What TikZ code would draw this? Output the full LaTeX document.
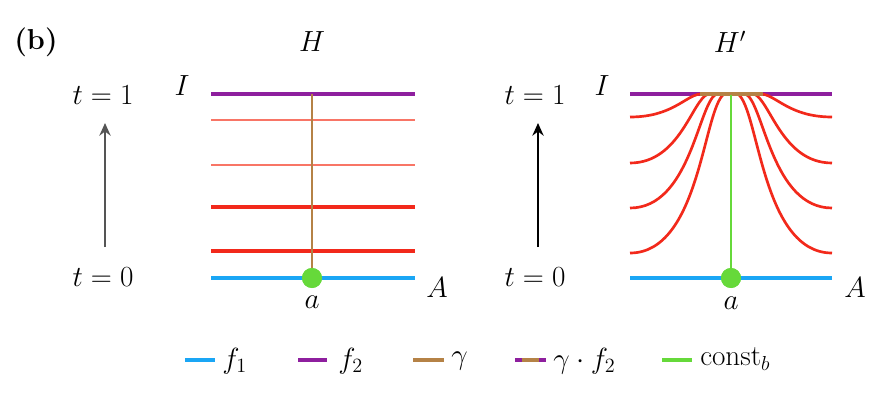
\documentclass[tikz,border=0pt]{standalone}
\usetikzlibrary{arrows.meta}
\begin{document}
\begin{tikzpicture}[x=0.025cm,y=-0.025cm,
  every node/.style={font=\fontsize{20.5}{24}\selectfont, inner sep=0pt},
  fone/.style={draw=cblue, line width=2.4pt},
  ftwo/.style={draw=cpurple, line width=2.6pt},
  redthick/.style={draw=cred, line width=2.4pt},
  redthin/.style={draw=clight, line width=1.8pt},
  redcurve/.style={draw=cred, line width=1.9pt},
  gam/.style={draw=cbrown, line width=1.3pt},
  gamthick/.style={draw=cbrown, line width=3pt},
  cst/.style={draw=cgreen, line width=1.3pt},
  dot/.style={circle, fill=cgreen, minimum size=20*0.025cm, inner sep=0pt},
  legline/.style={line width=2.6pt},
  tarrow/.style={-{Stealth[length=9pt,width=8pt]}, line width=1.8pt}]
\definecolor{cblue}{HTML}{1AA6F5}
\definecolor{cpurple}{HTML}{8E1F9E}
\definecolor{cred}{HTML}{F2291B}
\definecolor{clight}{HTML}{F87566}
\definecolor{cbrown}{HTML}{B58246}
\definecolor{cgreen}{HTML}{66D93A}
\definecolor{cgray}{HTML}{555555}
\useasboundingbox (0,0) rectangle (880,400);

% labels
\node (b) at (36,42) {\textbf{(b)}};
\node (H) at (312,42) {$H$};
\node (Hp) at (730,42) {$H'$};

% ---------- left panel ----------
\node (t1L) at (103,95) {$t=1$};
\node (t0L) at (103,277) {$t=0$};
\coordinate (aL0) at (105,247);
\coordinate (aL1) at (105,123);
\draw[tarrow, cgray] (aL0) -- (aL1);
\node (IL) at (182,86) {$I$};
\node (AL) at (437,288) {$A$};
\node (aL) at (312,302) {$a$};

\coordinate (L1a) at (211,120); \coordinate (L1b) at (415,120);
\coordinate (L2a) at (211,165); \coordinate (L2b) at (415,165);
\coordinate (L3a) at (211,207); \coordinate (L3b) at (415,207);
\coordinate (L4a) at (211,251); \coordinate (L4b) at (415,251);
\coordinate (LTa) at (211,94); \coordinate (LTb) at (415,94);
\coordinate (LBa) at (211,278); \coordinate (LBb) at (415,278);
\draw[redthin] (L1a) -- (L1b);
\draw[redthin] (L2a) -- (L2b);
\draw[redthick] (L3a) -- (L3b);
\draw[redthick] (L4a) -- (L4b);
\draw[ftwo] (LTa) -- (LTb);
\draw[fone] (LBa) -- (LBb);
\coordinate (gTop) at (312,94);
\node[dot] (dotL) at (312,278) {};
\draw[gam] (gTop) -- (dotL.center);
\node[dot] at (312,278) {};

% ---------- right panel ----------
\node (t1R) at (535,95) {$t=1$};
\node (t0R) at (535,277) {$t=0$};
\coordinate (aR0) at (538,247);
\coordinate (aR1) at (538,123);
\draw[tarrow, black] (aR0) -- (aR1);
\node (IR) at (602,86) {$I$};
\node (AR) at (855,288) {$A$};
\node (aR) at (731,303) {$a$};

\coordinate (RTa) at (630,94); \coordinate (RTb) at (832,94);
\coordinate (RBa) at (630,278); \coordinate (RBb) at (832,278);
\draw[ftwo] (RTa) -- (RTb);
% curves, left side
\draw[redcurve] (630,117) .. controls (672,117) and (685,96) .. (700,94);
\draw[redcurve] (630,163) .. controls (680,163) and (692,100) .. (708,94);
\draw[redcurve] (630,208) .. controls (690,208) and (698,105) .. (716,94);
\draw[redcurve] (630,253) .. controls (700,253) and (703,110) .. (724,94);
% curves, right side
\draw[redcurve] (832,117) .. controls (790,117) and (777,96) .. (762,94);
\draw[redcurve] (832,163) .. controls (782,163) and (770,100) .. (754,94);
\draw[redcurve] (832,208) .. controls (772,208) and (764,105) .. (746,94);
\draw[redcurve] (832,253) .. controls (762,253) and (759,110) .. (738,94);
\coordinate (bs) at (700,94); \coordinate (be) at (763,94);
\draw[gamthick] (bs) -- (be);
\draw[fone] (RBa) -- (RBb);
\coordinate (cTop) at (731,95);
\node[dot] (dotR) at (731,278) {};
\draw[cst] (cTop) -- (dotR.center);
\node[dot] at (731,278) {};

% ---------- legend ----------
\coordinate (l1a) at (185,360); \coordinate (l1b) at (215,360);
\draw[legline, cblue] (l1a) -- (l1b);
\node[anchor=west] (lf1) at (222,361) {$f_1$};
\coordinate (l2a) at (298,360); \coordinate (l2b) at (327,360);
\draw[legline, cpurple] (l2a) -- (l2b);
\node[anchor=west] (lf2) at (338,361) {$f_2$};
\coordinate (l3a) at (413,360); \coordinate (l3b) at (444,360);
\draw[legline, cbrown] (l3a) -- (l3b);
\node[anchor=west] (lg) at (451,361) {$\gamma$};
\coordinate (l4a) at (515,360); \coordinate (l4b) at (546,360);
\coordinate (l4m1) at (522,360); \coordinate (l4m2) at (539,360);
\draw[legline, cpurple] (l4a) -- (l4b);
\draw[legline, cbrown] (l4m1) -- (l4m2);
\node[anchor=west] (lgf) at (553,361) {$\gamma\cdot f_2$};
\coordinate (l5a) at (662,360); \coordinate (l5b) at (692,360);
\draw[legline, cgreen] (l5a) -- (l5b);
\node[anchor=west] (lc) at (700,359) {$\mathrm{const}_b$};
\end{tikzpicture}
\end{document}
